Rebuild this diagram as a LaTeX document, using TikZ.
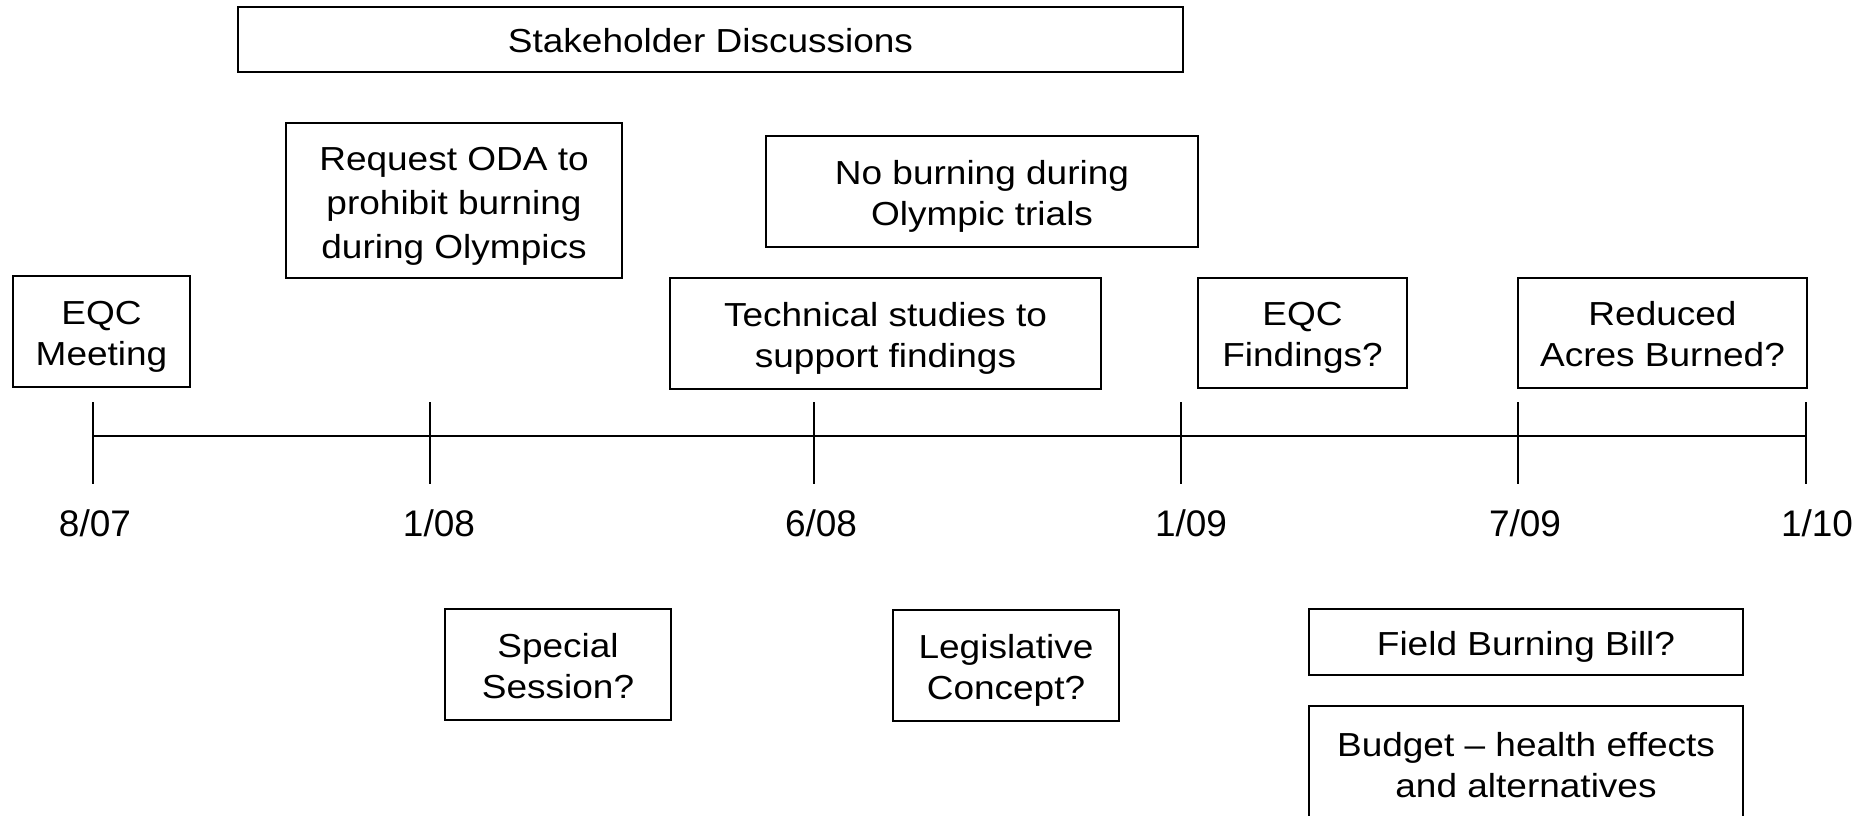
\documentclass[tikz,border=0pt]{standalone}
\usepackage{fontspec}
\usepackage{graphicx}
\setmainfont{Liberation Sans}
\newcommand{\bt}[1]{\raisebox{-5pt}[\height][\depth]{\scalebox{1}[0.9]{\begin{tabular}{@{}c@{}}#1\end{tabular}}}}
\begin{document}
\begin{tikzpicture}[x=1pt,y=-1pt,
  box/.style={draw, line width=1.8pt, inner sep=0pt, align=center,
    font=\fontsize{37}{46}\selectfont},
  datelab/.style={inner sep=0pt, font=\fontsize{37}{44}\selectfont},
  axis/.style={line width=1.8pt},
  tick/.style={line width=1.5pt}]
\clip (0,0) rectangle (1866,815);
\fill[white] (0,0) rectangle (1866,815);

% upper boxes
\node[box, minimum width=945pt, minimum height=65pt] (stake) at (710.5,39.5) {\bt{Stakeholder Discussions}};
\node[box, minimum width=336pt, minimum height=155pt, font=\fontsize{37}{49}\selectfont] (oda) at (454,200.5) {\bt{Request ODA to\\prohibit burning\\during Olympics}};
\node[box, minimum width=432pt, minimum height=111pt] (noburn) at (982,191.5) {\bt{No burning during\\Olympic trials}};
\node[box, minimum width=177pt, minimum height=111pt] (eqcm) at (101.5,331.5) {\bt{EQC\\Meeting}};
\node[box, minimum width=431pt, minimum height=111pt] (tech) at (885.5,333.5) {\bt{Technical studies to\\support findings}};
\node[box, minimum width=209pt, minimum height=110pt] (eqcf) at (1302.5,333) {\bt{EQC\\Findings?}};
\node[box, minimum width=289pt, minimum height=110pt] (acres) at (1662.5,333) {\bt{Reduced\\Acres Burned?}};

% lower boxes
\node[box, minimum width=226pt, minimum height=111pt] (special) at (558,664.5) {\bt{Special\\Session?}};
\node[box, minimum width=226pt, minimum height=111pt] (legis) at (1006,665.5) {\bt{Legislative\\Concept?}};
\node[box, minimum width=434pt, minimum height=66pt] (bill) at (1526,642) {\bt{Field Burning Bill?}};
\node[box, minimum width=434pt, minimum height=116pt] (budget) at (1526,764) {\bt{Budget -- health effects\\and alternatives}};

% timeline
\coordinate (t0) at (93,436);
\coordinate (t1) at (430,436);
\coordinate (t2) at (814,436);
\coordinate (t3) at (1181,436);
\coordinate (t4) at (1518,436);
\coordinate (t5) at (1806,436);
\draw[axis] (t0) -- (t5);
\foreach \i in {0,...,5} {
  \draw[tick] ([yshift=34pt]t\i) -- ([yshift=-48pt]t\i);
}

% date labels
\node[datelab] (l0) at (95,523) {8/07};
\node[datelab] (l1) at (439,523) {1/08};
\node[datelab] (l2) at (821,523) {6/08};
\node[datelab] (l3) at (1191,523) {1/09};
\node[datelab] (l4) at (1525,523) {7/09};
\node[datelab] (l5) at (1817,523) {1/10};
\end{tikzpicture}
\end{document}
